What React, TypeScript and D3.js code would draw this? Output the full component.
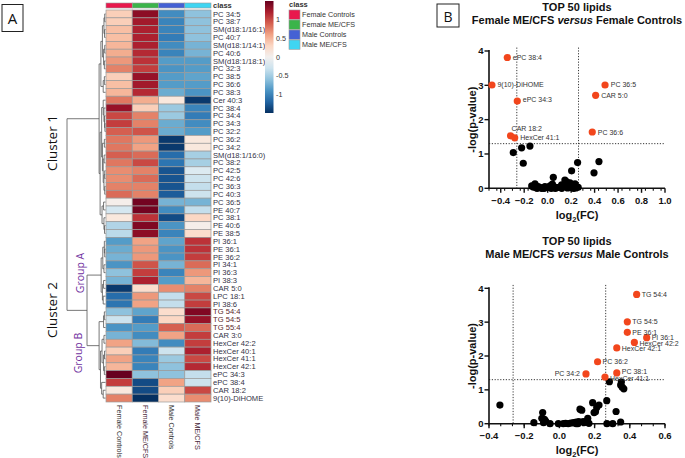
import React from "react";
import * as d3 from "d3";

// ---------------- Heatmap data ----------------
const lipids = [
  "PC 34:5", "PC 38:7", "SM(d18:1/16:1)", "PC 40:7", "SM(d18:1/14:1)", "PC 40:6", "SM(d18:1/18:1)",
  "PC 32:3", "PC 38:5", "PC 36:6", "PC 38:3", "Cer 40:3", "PC 38:4", "PC 34:4", "PC 34:3", "PC 32:2",
  "PC 36:2", "PC 34:2", "SM(d18:1/16:0)", "PC 38:2", "PC 42:5", "PC 42:6", "PC 36:3", "PC 40:3",
  "PC 36:5", "PE 40:7", "PC 38:1", "PE 40:6", "PE 38:5", "PI 36:1", "PE 36:1", "PE 36:2", "PI 34:1",
  "PI 36:3", "PI 38:3", "CAR 5:0", "LPC 18:1", "PI 38:6", "TG 54:4", "TG 54:5", "TG 55:4", "CAR 3:0",
  "HexCer 42:2", "HexCer 40:1", "HexCer 41:1", "HexCer 42:1", "ePC 34:3", "ePC 38:4", "CAR 18:2",
  "9(10)-DiHOME",
];
const femaleControls = [
  0.35, 0.35, 0.45, 0.45, 0.5, 0.55, 0.65, 0.75, 0.35, 0.45, 0.5, 0.8, 1.3, 1.0, 1.05, 0.9,
  0.8, 0.8, 0.9, 0.8, 0.7, 0.7, 0.75, 0.85, 0.05, -0.25, 0.15, -0.45, -0.4, -0.85, -0.75, -0.7,
  -0.9, -0.6, -0.7, -1.45, -1.15, -1.1, -0.6, -0.3, -0.9, -0.7, 0.6, 0.35, 0.6, 0.5, 1.5, 1.05,
  0.15, 0.75,
];
const femaleMECFS = [
  1.35, 1.25, 1.2, 1.2, 1.2, 1.15, 1.1, 1.05, 1.3, 1.25, 1.15, 0.55, 0.35, 0.75, 0.75, 0.95,
  0.65, 0.6, 0.85, 1.0, 0.75, 0.85, 0.75, 0.75, 1.45, 1.45, 1.1, 1.4, 1.35, 0.6, 0.65, 0.65,
  0.95, 1.05, 1.2, 0.25, 0.65, 0.6, -0.8, -1.05, -0.85, -0.95, -0.65, -1.05, -1.0, -1.0, -0.6, -1.35,
  -1.35, -1.5,
];
const maleControls = [
  -0.95, -1.0, -1.0, -1.05, -0.95, -1.0, -0.85, -0.9, -0.85, -0.85, -0.75, 0.15, -0.55, -0.55, -0.75, -0.75,
  -1.45, -1.45, -1.15, -1.1, -1.3, -1.3, -1.3, -1.25, -0.7, -0.95, -1.35, -0.9, -1.0, -0.8, -0.9, -0.9,
  -0.7, -1.0, -0.85, 0.7, -0.35, -0.35, 0.25, 0.3, 0.9, 0.6, -0.95, -0.3, -0.55, -0.6, -0.6, 0.6,
  0.35, 0.25,
];
const maleMECFS = [
  -0.6, -0.6, -0.6, -0.6, -0.7, -0.7, -0.85, -0.85, -0.8, -0.85, -0.9, -1.45, -1.0, -1.05, -0.95, -0.85,
  0.15, 0.15, -0.5, -0.5, -0.2, -0.3, -0.35, -0.3, -0.7, -0.35, 0.3, 0.05, 0.25, 1.1, 1.1, 1.05,
  0.85, 0.65, 0.5, 0.75, 1.0, 1.05, 1.4, 1.3, 0.85, 1.05, 1.05, 1.2, 1.0, 1.15, -0.35, -0.3,
  1.0, 0.7,
];
const classNames = ["Female Controls", "Female ME/CFS", "Male Controls", "Male ME/CFS"];
const classColors = ["#e8184d", "#3bb44a", "#4561d4", "#3fd5f2"];
const colorbarTicks = [1, 0.5, 0, -0.5, -1];

// Row dendrogram (leaf = row index, node = {h: merge height, c: children})
type TNode = number | { h: number; c: TNode[] };
const N = (h: number, ...c: TNode[]): TNode => ({ h, c });
const cluster1Tree = N(1.66,
  N(1.2,
    N(0.8, N(0.4, N(0.2, 0, 1), N(0.25, 2, 3)), N(0.5, N(0.2, 4, 5), N(0.3, 6, 7))),
    N(0.6, N(0.3, 8, 9), 10)),
  N(1.4,
    N(1.0,
      N(0.6, 11, N(0.4, 12, N(0.25, 13, N(0.15, 14, 15)))),
      N(0.8, N(0.3, 16, 17), N(0.6, N(0.35, 18, 19), N(0.4, N(0.2, 20, 21), N(0.2, 22, 23))))),
    N(0.9, N(0.5, 24, 25), N(0.4, 26, N(0.25, 27, 28)))));
const groupATree = N(1.13,
  N(0.7, N(0.3, 29, N(0.2, 30, 31)), N(0.4, 32, 33)),
  N(0.8, N(0.5, 34, 35), N(0.6, 36, 37)));
const groupBTree = N(1.66,
  N(0.5, N(0.3, 38, 39), 40),
  N(1.3,
    N(0.9, N(0.4, 41, 42), N(0.5, N(0.25, 43, 44), N(0.3, 45, 46))),
    N(1.0, 47, N(0.6, 48, 49))));
const rowTree = N(10, cluster1Tree, N(4.8, groupATree, groupBTree));

// ---------------- Volcano data ----------------
const femaleSigLabels = ["ePC 38:4", "9(10)-DiHOME", "ePC 34:3", "CAR 18:2", "HexCer 41:1", "PC 36:5", "CAR 5:0", "PC 36:6"];
const femaleSigFC = [-0.344, -0.475, -0.259, -0.316, -0.281, 0.489, 0.409, 0.38];
const femaleSigP = [3.81, 3.01, 2.54, 1.53, 1.47, 3.01, 2.71, 1.64];
const femaleNsFC = [
  -0.293, -0.222, -0.151, -0.208, 0.048, 0.204, 0.255, 0.395, 0.437,
  -0.136, -0.108, -0.08, -0.051, -0.023, 0.02, 0.054, 0.082, 0.119, 0.147, 0.162, 0.19, 0.204, 0.218, 0.233, 0.247,
  -0.12, -0.09, -0.06, -0.03, 0.0, 0.03, 0.04, 0.065, 0.1, 0.12, 0.13, 0.17, 0.2, 0.22, 0.24, 0.26, -0.1,
];
const femaleNsP = [
  1.04, 1.18, 1.23, 0.73, 0.32, 0.51, 0.75, 0.45, 0.78,
  0.07, 0.13, 0.05, 0.0, 0.05, 0.07, 0.05, 0.02, 0.1, 0.24, 0.19, 0.16, 0.1, 0.05, 0.13, 0.05,
  0.03, 0.0, 0.02, 0.0, 0.02, 0.0, 0.12, 0.0, 0.03, 0.0, 0.05, 0.01, 0.02, 0.0, 0.01, 0.03, 0.02,
];
const maleSigLabels = ["TG 54:4", "TG 54:5", "PE 36:1", "PI 36:1", "HexCer 42:2", "HexCer 42:1", "PC 36:2", "PC 38:1", "PC 34:2", "HexCer 41:1"];
const maleSigFC = [0.439, 0.386, 0.386, 0.496, 0.426, 0.326, 0.217, 0.326, 0.151, 0.259];
const maleSigP = [3.82, 3.01, 2.7, 2.54, 2.4, 2.24, 1.83, 1.5, 1.47, 1.38];
const maleNsFC = [
  -0.338, -0.145, -0.095, -0.1, -0.085, -0.09, -0.078, -0.053, -0.006, 0.022, 0.035, 0.05, 0.065, 0.08,
  0.095, 0.11, 0.117, 0.127, 0.105, 0.135, 0.161, 0.168, 0.155, 0.189, 0.197, 0.212, 0.225, 0.205,
  0.269, 0.284, 0.303, 0.322, 0.348, 0.352, 0.348, 0.357, 0.366, 0.095, 0.14, 0.27,
];
const maleNsP = [
  0.55, 0.03, 0.33, 0.16, 0.13, 0.03, 0.08, 0.0, 0.0, 0.0, 0.01, 0.0, 0.02, 0.03,
  0.05, 0.06, 0.43, 0.4, 0.0, 0.06, 0.16, 0.01, 0.06, 0.62, 0.33, 0.48, 0.55, 0.35,
  0.68, 1.24, 0.0, 0.36, 0.05, 1.23, 1.14, 1.08, 1.03, 0.0, 0.03, 0.0,
];
const pThreshold = 1.301;
const fcThreshold = 0.263;

// label placement (layout only)
const femaleLabelPos: [number, number, string][] = [
  [5.5, 2.5, "start"], [5.5, 2.5, "start"], [5.5, 0.5, "start"], [1, -4.5, "start"], [5.5, 2, "start"],
  [5.7, 2.5, "start"], [5.5, 2.5, "start"], [5.5, 2.5, "start"],
];
const maleLabelPos: [number, number, string][] = [
  [5, 2.5, "start"], [5, 2.5, "start"], [5, 2.5, "start"], [5, 2, "start"], [5, 3.5, "start"],
  [5, 3, "start"], [5, 2.5, "start"], [5, 1.5, "start"], [-6, 2.5, "end"], [5, 4.5, "start"],
];

const SANS = "'Liberation Sans', Arial, sans-serif";
const OPEN = "'Open Sans', sans-serif";

function Dendrogram({ yOf, xOf }: { yOf: (i: number) => number; xOf: (h: number) => number }) {
  const segs: string[] = [];
  const walk = (n: TNode): { x: number; y: number } => {
    if (typeof n === "number") return { x: xOf(0), y: yOf(n) };
    const kids = n.c.map(walk);
    const x = xOf(n.h);
    const ys = kids.map((k) => k.y);
    const y = (ys[0] + ys[ys.length - 1]) / 2;
    segs.push(`M${x},${d3.min(ys)}V${d3.max(ys)}`);
    kids.forEach((k) => segs.push(`M${x},${k.y}H${k.x}`));
    return { x, y };
  };
  walk(rowTree);
  return <path d={segs.join("")} fill="none" stroke="#555" strokeWidth={0.8} />;
}

function Heatmap() {
  const x = d3.scaleBand<string>().domain(classNames).range([106, 211]);
  const y = d3.scaleBand<string>().domain(lipids).range([10, 402]);
  const color = d3.scaleSequential(d3.interpolateRdBu).domain([1.5, -1.5]);
  const cols = [femaleControls, femaleMECFS, maleControls, maleMECFS];
  const dx = d3.scaleLinear().domain([0, 10]).range([105.5, 67]);
  const cb = d3.scaleLinear().domain([1.5, -1.5]).range([1, 113]);
  const gradStops = d3.range(0, 1.0001, 0.1);
  return (
    <g>
      {/* panel letter */}
      <rect x={2} y={4.5} width={21} height={27} fill="white" stroke="#222" strokeWidth={1} />
      <text x={12.5} y={24} textAnchor="middle" fontFamily={OPEN} fontSize={15} fill="#111">A</text>

      {/* class bar */}
      {classNames.map((c, i) => (
        <rect key={c} x={x(c)} y={3} width={x.bandwidth()} height={5} fill={classColors[i]} stroke="#9a9a9a" strokeWidth={0.6} />
      ))}
      <text x={213} y={8} fontFamily={SANS} fontSize={7.5} fontWeight="bold" fill="#333">class</text>

      {/* cells */}
      {lipids.map((l, r) =>
        cols.map((vals, ci) => (
          <rect key={l + ci} x={x(classNames[ci])} y={y(l)} width={x.bandwidth()} height={y.bandwidth()}
            fill={color(vals[r])} stroke="#9a9a9a" strokeWidth={0.7} />
        ))
      )}
      {/* row labels */}
      {lipids.map((l) => (
        <text key={l} x={213} y={(y(l) as number) + y.bandwidth() / 2 + 2.6} fontFamily={SANS} fontSize={7.6}
          fill={l.startsWith("TG") ? "#5a1f2a" : "#333346"}>{l}</text>
      ))}
      {/* column labels */}
      {classNames.map((c) => (
        <text key={c} transform={`translate(${(x(c) as number) + x.bandwidth() / 2 - 2.5},405) rotate(90)`}
          fontFamily={SANS} fontSize={7.2} fill={c.includes("ME/CFS") ? "#4a2a3a" : "#333"}>{c}</text>
      ))}

      {/* dendrogram */}
      <Dendrogram yOf={(i) => (y(lipids[i]) as number) + y.bandwidth() / 2} xOf={dx} />
      <text transform="translate(57,143) rotate(-90)" textAnchor="middle" fontFamily={OPEN} fontSize={13.5} fill="#111">Cluster 1</text>
      <text transform="translate(57,310) rotate(-90)" textAnchor="middle" fontFamily={OPEN} fontSize={13.5} fill="#111">Cluster 2</text>
      <text transform="translate(83.5,273) rotate(-90)" textAnchor="middle" fontFamily={OPEN} fontSize={10.5} fill="#7030a0">Group A</text>
      <text transform="translate(81.5,353) rotate(-90)" textAnchor="middle" fontFamily={OPEN} fontSize={10.5} fill="#7030a0">Group B</text>

      {/* colour bar */}
      <defs>
        <linearGradient id="cbgrad" x1="0" y1="0" x2="0" y2="1">
          {gradStops.map((t) => (
            <stop key={t} offset={t} stopColor={color(1.5 - 3 * t)} />
          ))}
        </linearGradient>
      </defs>
      <rect x={265} y={cb(1.5)} width={8.5} height={cb(-1.5) - cb(1.5)} fill="url(#cbgrad)" />
      {colorbarTicks.map((t) => (
        <text key={t} x={276} y={cb(t) + 2.5} fontFamily={SANS} fontSize={7.2} fill="#333">{t}</text>
      ))}

      {/* class legend */}
      <text x={289} y={6.5} fontFamily={SANS} fontSize={7.5} fontWeight="bold" fill="#333">class</text>
      {classNames.map((c, i) => (
        <g key={c}>
          <rect x={289} y={10 + i * 10} width={11} height={9.3} fill={classColors[i]} stroke="#9a9a9a" strokeWidth={0.6} />
          <text x={302} y={17.3 + i * 10} fontFamily={SANS} fontSize={7.2} fill="#333">{c}</text>
        </g>
      ))}
    </g>
  );
}

type VProps = {
  titleY: number;
  subtitle: React.ReactNode;
  xDomain: [number, number];
  xTicks: number[];
  y0: number;
  y4: number;
  sigFC: number[];
  sigP: number[];
  sigLabels: string[];
  labelPos: [number, number, string][];
  nsFC: number[];
  nsP: number[];
  xTitleY: number;
  xLabelY: number;
};

function Volcano(p: VProps) {
  const x = d3.scaleLinear().domain(p.xDomain).range([489, 665]);
  const y = d3.scaleLinear().domain([0, 4]).range([p.y0, p.y4]);
  const minor = d3.range(p.xDomain[0], p.xDomain[1] + 1e-6, 0.2 / 3);
  const yTicks = [0, 1, 2, 3, 4];
  const red = "#f2461c";
  return (
    <g>
      <text x={577} y={p.titleY} textAnchor="middle" fontFamily={SANS} fontWeight="bold" fontSize={11} fill="#111">TOP 50 lipids</text>
      <text x={577} y={p.titleY + 13} textAnchor="middle" fontFamily={SANS} fontWeight="bold" fontSize={11} fill="#111">{p.subtitle}</text>

      {/* threshold lines */}
      <line x1={x(-fcThreshold)} x2={x(-fcThreshold)} y1={y(4.1)} y2={y(0)} stroke="#222" strokeWidth={0.9} strokeDasharray="1.2,1.6" />
      <line x1={x(fcThreshold)} x2={x(fcThreshold)} y1={y(4.1)} y2={y(0)} stroke="#222" strokeWidth={0.9} strokeDasharray="1.2,1.6" />
      <line x1={489} x2={664} y1={y(pThreshold)} y2={y(pThreshold)} stroke="#222" strokeWidth={0.9} strokeDasharray="1.2,1.6" />

      {/* axes */}
      <line x1={489} x2={489} y1={y(0)} y2={y(4) - 1} stroke="#111" strokeWidth={1.6} />
      <line x1={488.2} x2={665} y1={y(0)} y2={y(0)} stroke="#111" strokeWidth={1.6} />
      {yTicks.map((t) => (
        <g key={t}>
          <line x1={484.5} x2={489} y1={y(t)} y2={y(t)} stroke="#111" strokeWidth={1.4} />
          <text x={483.5} y={y(t) + 3.4} textAnchor="end" fontFamily={SANS} fontWeight="bold" fontSize={9.5} fill="#111">{t}</text>
        </g>
      ))}
      {minor.map((t, i) => (
        <line key={i} x1={x(t)} x2={x(t)} y1={y(0)} y2={y(0) + 2.5} stroke="#111" strokeWidth={1.1} />
      ))}
      {p.xTicks.map((t) => (
        <g key={t}>
          <line x1={x(t)} x2={x(t)} y1={y(0)} y2={y(0) + 4.5} stroke="#111" strokeWidth={1.4} />
          <text x={x(t)} y={p.xLabelY} textAnchor="middle" fontFamily={SANS} fontWeight="bold" fontSize={9.5} fill="#111">{d3.format(".1f")(t).replace("-", "-")}</text>
        </g>
      ))}
      <text transform={`translate(475.5,${(y(0) + y(4)) / 2}) rotate(-90)`} textAnchor="middle" fontFamily={SANS} fontWeight="bold" fontSize={11} fill="#111">-log(p-value)</text>
      <text x={577} y={p.xTitleY} textAnchor="middle" fontFamily={SANS} fontWeight="bold" fontSize={11} fill="#111">
        log<tspan fontSize={7.5} dy={3}>2</tspan><tspan dy={-3}>(FC)</tspan>
      </text>

      {/* points */}
      {p.nsFC.map((v, i) => (
        <circle key={"n" + i} cx={x(v)} cy={y(p.nsP[i])} r={3.6} fill="#000" />
      ))}
      {p.sigFC.map((v, i) => (
        <circle key={"s" + i} cx={x(v)} cy={y(p.sigP[i])} r={3.6} fill={red} />
      ))}
      {p.sigLabels.map((l, i) => (
        <text key={l} x={x(p.sigFC[i]) + p.labelPos[i][0]} y={y(p.sigP[i]) + p.labelPos[i][1]}
          textAnchor={p.labelPos[i][2] as any} fontFamily={SANS} fontSize={7} fill="#333">{l}</text>
      ))}
    </g>
  );
}

export default function App() {
  return (
    <svg width={685} height={458} style={{ position: "absolute", left: 0, top: 0, background: "white" }}>
      <rect width={685} height={458} fill="white" />
      <Heatmap />
      <rect x={437} y={4} width={22} height={23} fill="white" stroke="#222" strokeWidth={1} />
      <text x={448} y={21.5} textAnchor="middle" fontFamily={OPEN} fontSize={14} fill="#111">B</text>
      <Volcano
        titleY={10.5}
        subtitle={<>Female ME/CFS <tspan fontStyle="italic">versus</tspan> Female Controls</>}
        xDomain={[-0.5, 1.0]}
        xTicks={[-0.4, -0.2, 0, 0.2, 0.4, 0.6, 0.8, 1.0]}
        y0={188.3}
        y4={51}
        sigFC={femaleSigFC}
        sigP={femaleSigP}
        sigLabels={femaleSigLabels}
        labelPos={femaleLabelPos}
        nsFC={femaleNsFC}
        nsP={femaleNsP}
        xTitleY={219}
        xLabelY={203.5}
      />
      <Volcano
        titleY={245}
        subtitle={<>Male ME/CFS <tspan fontStyle="italic">versus</tspan> Male Controls</>}
        xDomain={[-0.4, 0.6]}
        xTicks={[-0.4, -0.2, 0, 0.2, 0.4, 0.6]}
        y0={423.7}
        y4={288.3}
        sigFC={maleSigFC}
        sigP={maleSigP}
        sigLabels={maleSigLabels}
        labelPos={maleLabelPos}
        nsFC={maleNsFC}
        nsP={maleNsP}
        xTitleY={454}
        xLabelY={439}
      />
    </svg>
  );
}
